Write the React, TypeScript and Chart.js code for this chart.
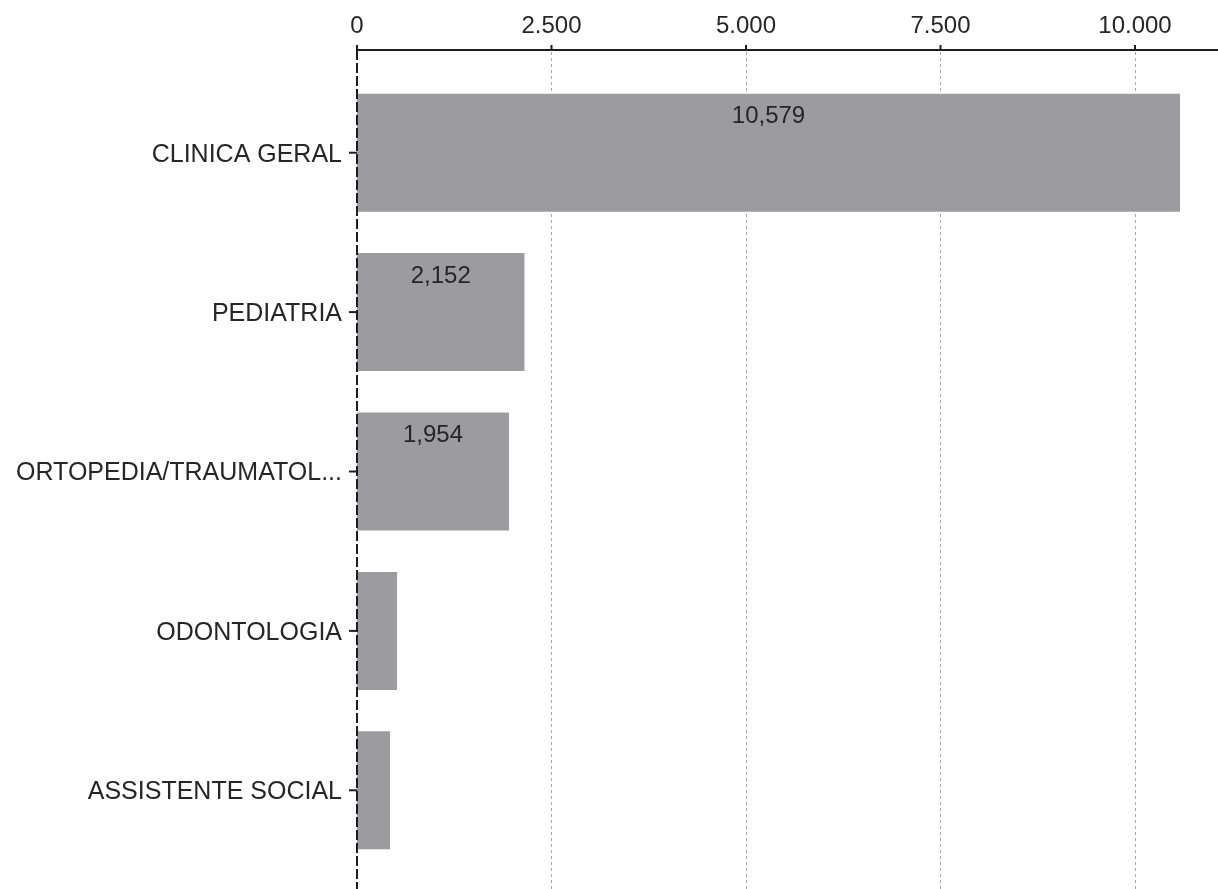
import { useEffect, useRef } from 'react';
import { Chart, registerables } from 'chart.js';

Chart.register(...registerables);

const categories = [
  'CLINICA GERAL',
  'PEDIATRIA',
  'ORTOPEDIA/TRAUMATOL...',
  'ODONTOLOGIA',
  'ASSISTENTE SOCIAL',
];
const values = [10579, 2152, 1954, 515, 425];
const xTickValues = [0, 2500, 5000, 7500, 10000];
const X_MIN = 0;
const X_MAX = 11067;

const FONT = "'Liberation Sans', Arial, Helvetica, sans-serif";
const TEXT = '#262626';
const AXIS = '#1e1e1e';
const BAR = '#9b9ba0';
const GRID = '#a8a8a8';
const AXIS_GAP = 23;

function fmt(v: number, sep: string): string {
  return String(Math.round(v)).replace(/\B(?=(\d{3})+(?!\d))/g, sep);
}

const axesPlugin = {
  id: 'axesPlugin',
  beforeDatasetsDraw(chart: any) {
    const { ctx, chartArea, scales } = chart;
    const x = scales.x;
    const axisY = chartArea.top - AXIS_GAP;
    ctx.save();
    ctx.strokeStyle = GRID;
    ctx.lineWidth = 1;
    ctx.setLineDash([3, 3]);
    x.ticks.forEach((t: any) => {
      if (t.value <= X_MIN) return;
      const px = Math.round(x.getPixelForValue(t.value)) + 0.5;
      ctx.beginPath();
      ctx.moveTo(px, axisY + 2);
      ctx.lineTo(px, chart.height);
      ctx.stroke();
    });
    ctx.restore();
  },
  afterDatasetsDraw(chart: any) {
    const { ctx, chartArea, scales } = chart;
    const x = scales.x;
    const y = scales.y;
    const axisY = chartArea.top - AXIS_GAP;
    const x0 = x.getPixelForValue(X_MIN);
    ctx.save();
    // top x axis line
    ctx.strokeStyle = AXIS;
    ctx.lineWidth = 2;
    ctx.setLineDash([]);
    ctx.beginPath();
    ctx.moveTo(x0, axisY);
    ctx.lineTo(chart.width, axisY);
    ctx.stroke();
    x.ticks.forEach((t: any) => {
      const px = x.getPixelForValue(t.value);
      ctx.beginPath();
      ctx.moveTo(px, axisY - 5);
      ctx.lineTo(px, axisY);
      ctx.stroke();
    });
    // left y axis (dashed)
    ctx.setLineDash([10, 3]);
    ctx.beginPath();
    ctx.moveTo(x0, axisY);
    ctx.lineTo(x0, chart.height);
    ctx.stroke();
    ctx.setLineDash([]);
    y.ticks.forEach((_t: any, i: number) => {
      const py = y.getPixelForTick(i);
      ctx.beginPath();
      ctx.moveTo(x0 - 8, py);
      ctx.lineTo(x0, py);
      ctx.stroke();
    });
    // data labels
    ctx.font = `24px ${FONT}`;
    ctx.fillStyle = TEXT;
    ctx.textAlign = 'center';
    ctx.textBaseline = 'middle';
    const meta = chart.getDatasetMeta(0);
    meta.data.forEach((bar: any, i: number) => {
      const p = bar.getProps(['x', 'base', 'y', 'height'], true);
      const text = fmt(values[i], ',');
      const w = ctx.measureText(text).width;
      const barW = Math.abs(p.x - p.base);
      if (w + 10 < barW) {
        ctx.fillText(text, (p.x + p.base) / 2, p.y - p.height / 2 + 23);
      }
    });
    ctx.restore();
  },
};

export default function App() {
  const ref = useRef<HTMLCanvasElement | null>(null);

  useEffect(() => {
    if (!ref.current) return;
    const chart = new Chart(ref.current, {
      type: 'bar',
      data: {
        labels: categories,
        datasets: [
          {
            data: values,
            backgroundColor: BAR,
            borderWidth: 0,
            barPercentage: 0.74,
            categoryPercentage: 1,
          },
        ],
      },
      options: {
        indexAxis: 'y',
        responsive: false,
        animation: false,
        layout: { padding: { top: 0, bottom: 19, left: 0, right: 0 } },
        plugins: {
          legend: { display: false },
          tooltip: { enabled: false },
        },
        scales: {
          x: {
            type: 'linear',
            position: 'top',
            min: X_MIN,
            max: X_MAX,
            afterBuildTicks: (s: any) => {
              s.ticks = xTickValues.map((v) => ({ value: v }));
            },
            ticks: {
              font: { family: FONT, size: 24 },
              color: TEXT,
              padding: 32,
              maxRotation: 0,
              autoSkip: false,
              callback: (v: any) => fmt(Number(v), '.'),
            },
            grid: { display: false, drawTicks: false },
            border: { display: false },
            afterFit: (s: any) => {
              s.height = 73;
              s.paddingLeft = 0;
              s.paddingRight = 0;
            },
          },
          y: {
            type: 'category',
            offset: true,
            ticks: {
              font: { family: FONT, size: 25 },
              color: TEXT,
              padding: 15,
              labelOffset: 2,
              autoSkip: false,
            },
            grid: { display: false, drawTicks: false },
            border: { display: false },
            afterFit: (s: any) => {
              s.width = 357;
              s.paddingTop = 0;
              s.paddingBottom = 0;
            },
          },
        },
      },
      plugins: [axesPlugin],
    } as any);
    return () => chart.destroy();
  }, []);

  return (
    <div style={{ position: 'absolute', left: 0, top: 0, width: 1218, height: 889, background: '#fff' }}>
      <canvas ref={ref} width={1218} height={889} style={{ display: 'block' }} />
    </div>
  );
}
